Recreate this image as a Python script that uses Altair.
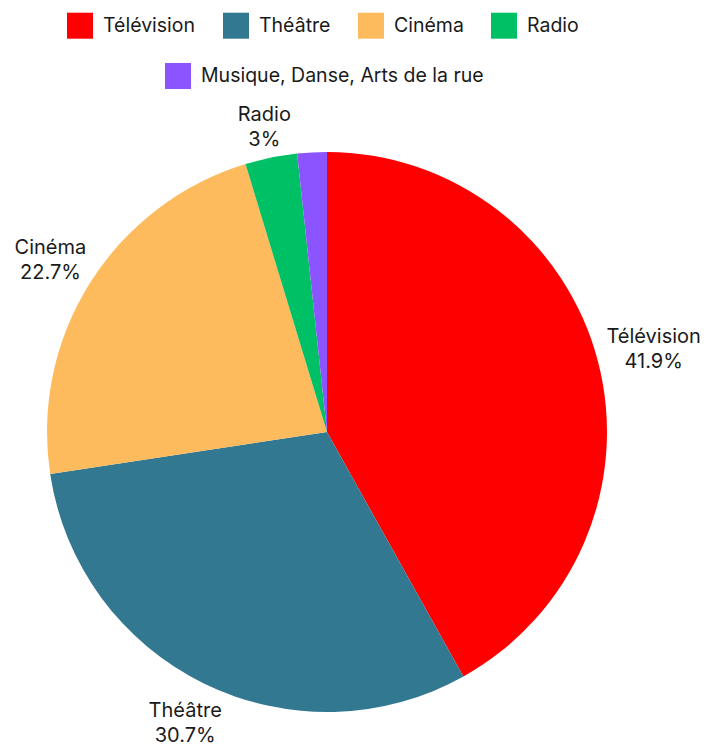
import altair as alt
import pandas as pd

categories = ["Télévision", "Théâtre", "Cinéma", "Radio", "Musique, Danse, Arts de la rue"]
values = [41.9, 30.7, 22.7, 3.0, 1.7]
colors = ["#FF0000", "#337891", "#FDBB5E", "#00C065", "#8C54FF"]

df = pd.DataFrame({
    "cat": categories,
    "value": values,
    "order": list(range(len(categories))),
    "pct": [f"{v:g}%" for v in values],
})

FONT = "Inter"
CX, CY, R = 319, 424, 280

base = alt.Chart(df).transform_window(
    cum="sum(value)", sort=[alt.SortField("order")], frame=[None, 0]
).transform_calculate(
    start="datum.cum - datum.value",
    mid="datum.cum - datum.value / 2",
    label="datum.cat + '\\n' + datum.pct",
)

theta_scale = alt.Scale(domain=[0, 100])

def legend(x, y):
    return alt.Legend(
        orient="none", legendX=x, legendY=y, direction="horizontal", title=None,
        symbolType="square", symbolSize=676, symbolStrokeWidth=0,
        labelFont=FONT, labelFontSize=19.5, labelColor="#1a1a1a", labelOffset=10,
        columnPadding=27, padding=0, labelLimit=600,
    )

arcs_a = base.transform_filter("datum.order < 4").mark_arc(outerRadius=R, stroke=None).encode(
    theta=alt.Theta("start:Q", scale=theta_scale, stack=None),
    theta2="cum:Q",
    x=alt.value(CX), y=alt.value(CY),
    color=alt.Color("cat:N", scale=alt.Scale(domain=categories[:4], range=colors[:4]),
                    legend=legend(59, 4.7)),
)

arcs_b = base.transform_filter("datum.order >= 4").mark_arc(outerRadius=R, stroke=None).encode(
    theta=alt.Theta("start:Q", scale=theta_scale, stack=None),
    theta2="cum:Q",
    x=alt.value(CX), y=alt.value(CY),
    color=alt.Color("cat:N", scale=alt.Scale(domain=categories[4:], range=colors[4:]),
                    legend=legend(157, 55)),
)

# label placement: text box kept just outside the circle along the slice's mid ray
labels = base.transform_filter("datum.value >= 2").transform_calculate(
    ang="datum.mid / 100 * 2 * PI",
    tw="30 + 6.5 * max(length(datum.cat), length(datum.pct))",
).transform_calculate(
    lr=f"{R} + 6 + abs(sin(datum.ang)) * datum.tw / 2 + abs(cos(datum.ang)) * 22",
).mark_text(
    lineBreak="\n", font=FONT, fontSize=20, color="#1a1a1a",
    align="center", baseline="middle", lineHeight=25, dy=-10,
).encode(
    theta=alt.Theta("mid:Q", scale=theta_scale, stack=None),
    radius=alt.Radius("lr:Q", scale=None),
    x=alt.value(CX), y=alt.value(CY),
    text="label:N",
)

chart = alt.layer(arcs_a, arcs_b, labels).resolve_scale(color="independent").properties(
    width=692, height=740, padding=0, autosize=alt.AutoSizeParams(type="none")
).configure_view(stroke=None)

chart.save("out.html", embed_options={"renderer": "svg", "actions": False})
